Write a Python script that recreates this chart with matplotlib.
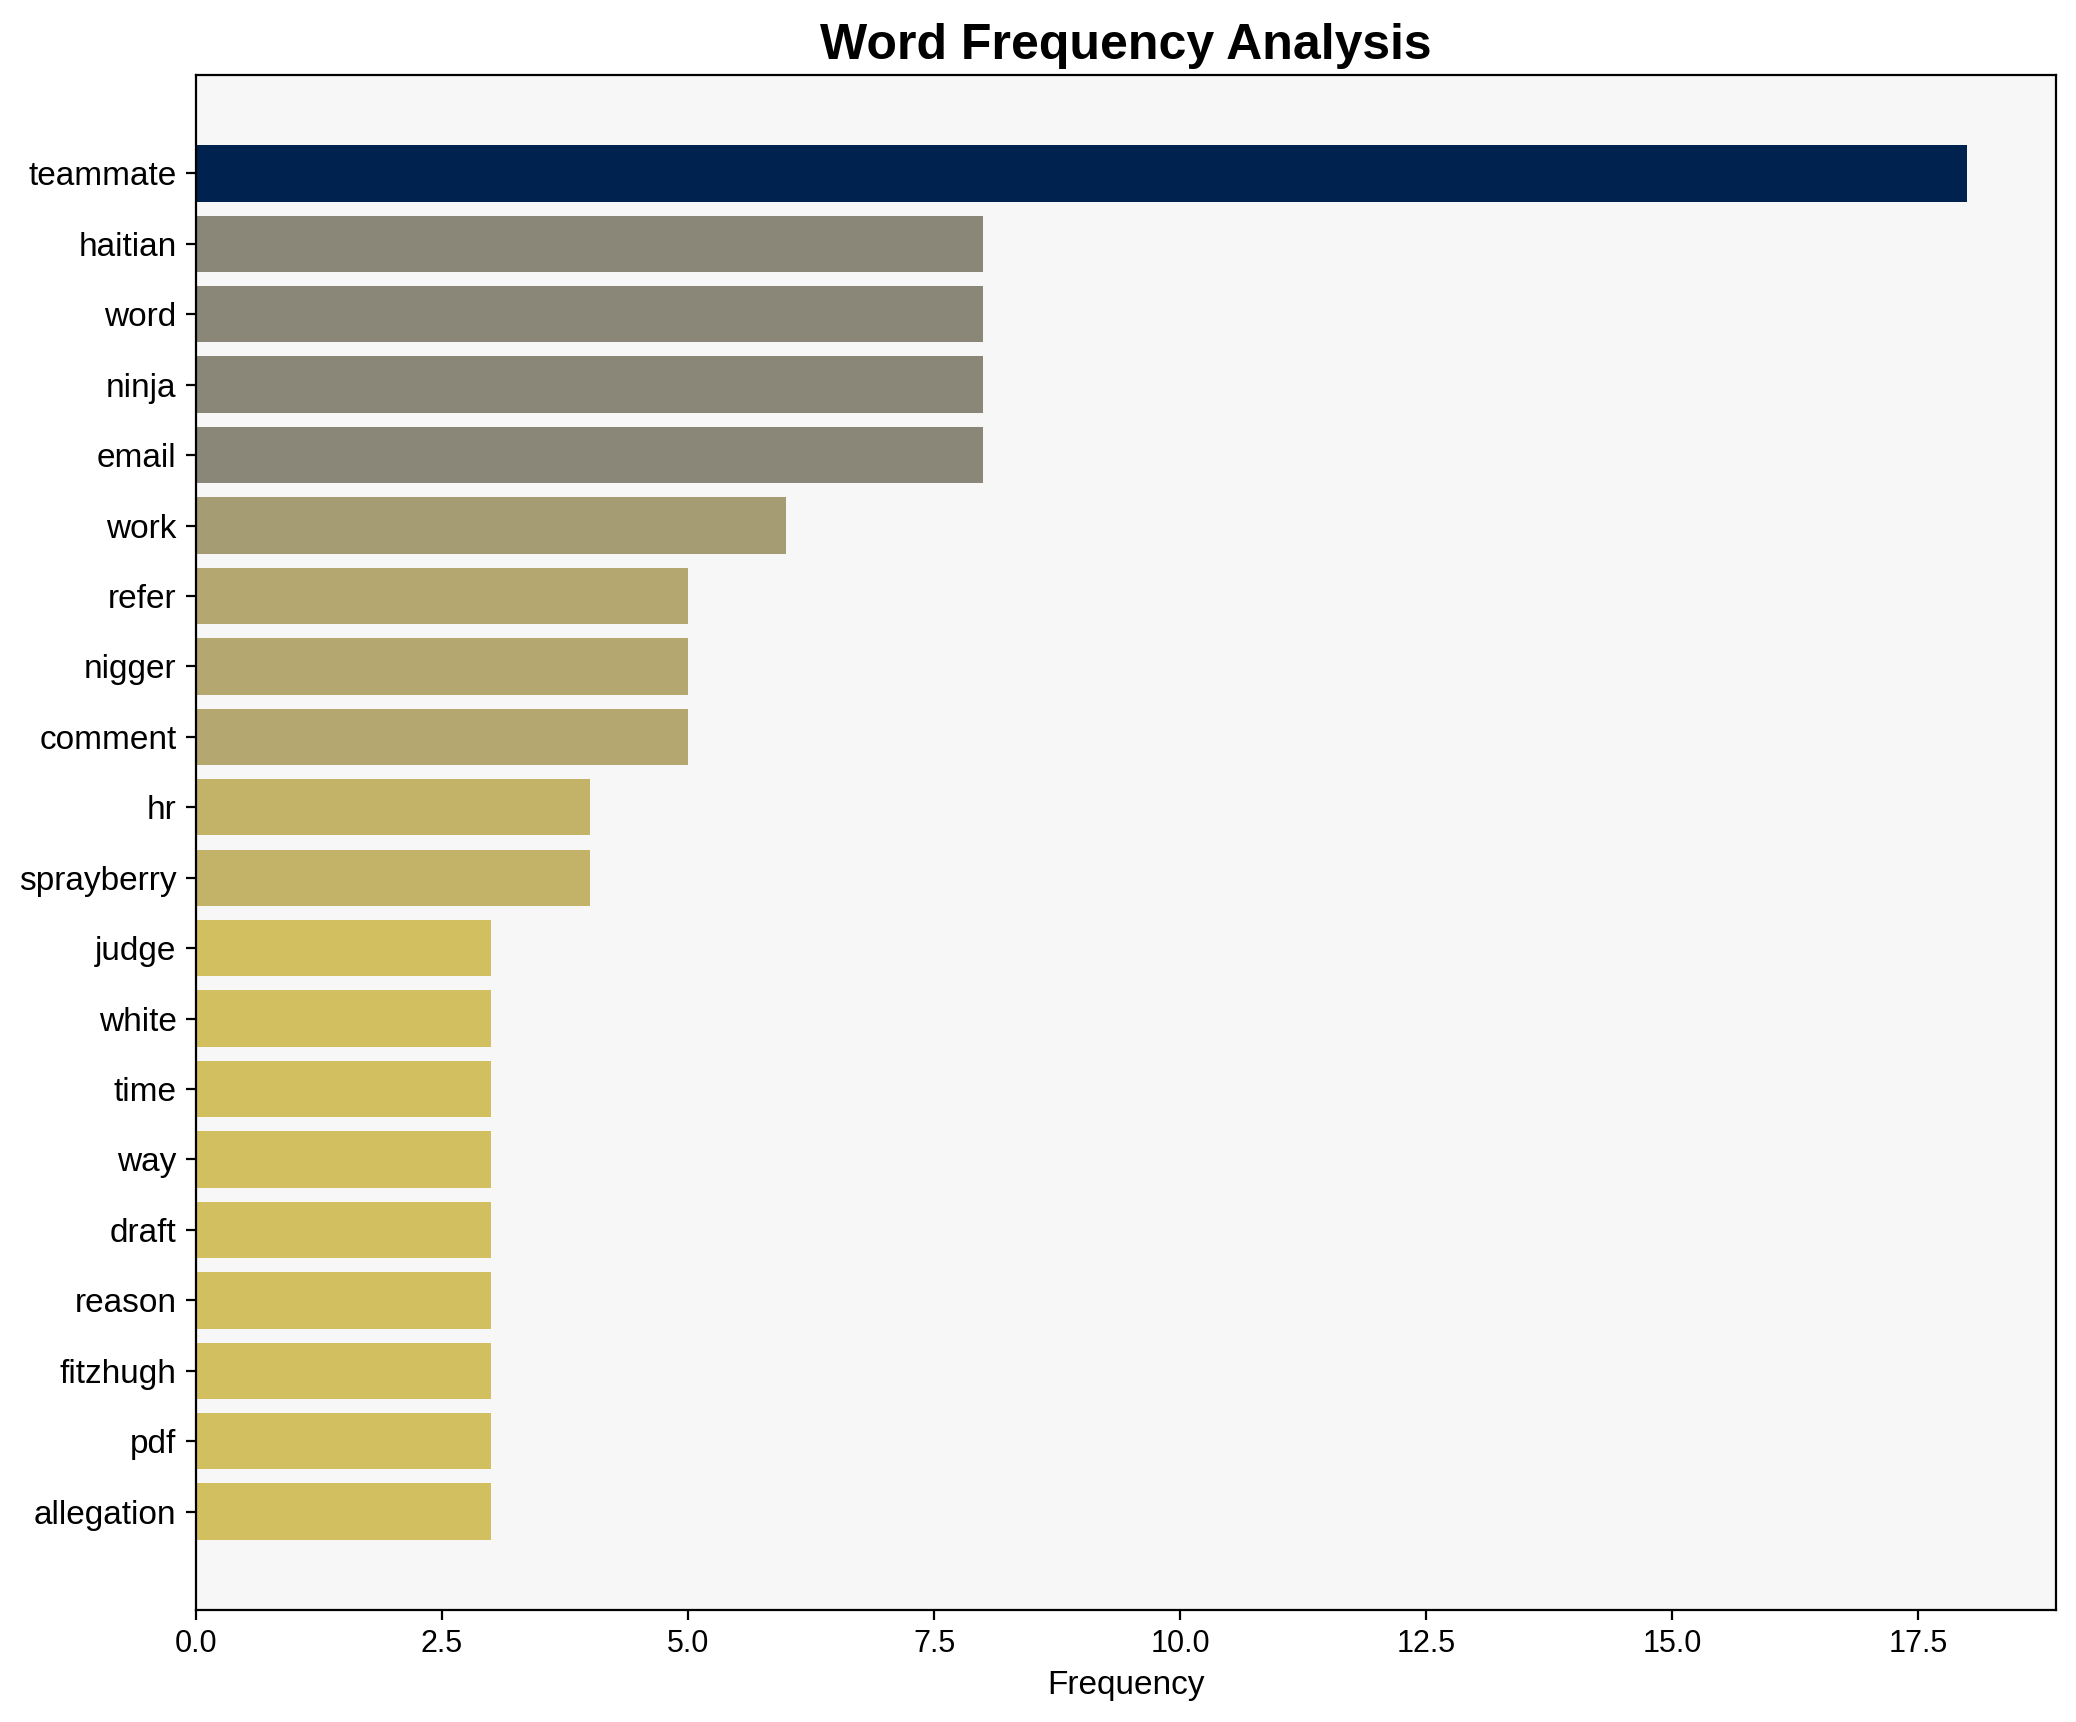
import numpy as np
import matplotlib.pyplot as plt

plt.rcParams['font.family'] = ['Liberation Sans', 'DejaVu Sans']

words = ['teammate', 'haitian', 'word', 'ninja', 'email', 'work', 'refer',
         'nigger', 'comment', 'hr', 'sprayberry', 'judge', 'white', 'time',
         'way', 'draft', 'reason', 'fitzhugh', 'pdf', 'allegation']
counts = [18, 8, 8, 8, 8, 6, 5, 5, 5, 4, 4, 3, 3, 3, 3, 3, 3, 3, 3, 3]

fig, ax = plt.subplots(figsize=(10.38, 8.61), dpi=200)
counts_arr = np.array(counts)
colors = plt.cm.cividis(1 - counts_arr / counts_arr.max())
y = np.arange(len(words))
ax.barh(y, counts, color=colors)
ax.set_yticks(y)
ax.set_yticklabels(words, fontsize=12)
ax.invert_yaxis()
ax.tick_params(axis='x', labelsize=11)
ax.set_xlabel('Frequency', fontsize=12)
ax.set_title('Word Frequency Analysis', fontsize=18, fontweight='bold')
ax.set_facecolor('#f7f7f7')
plt.subplots_adjust(left=0.0944, right=0.9904, top=0.9562, bottom=0.0653)
plt.savefig('out.png', dpi=200)
